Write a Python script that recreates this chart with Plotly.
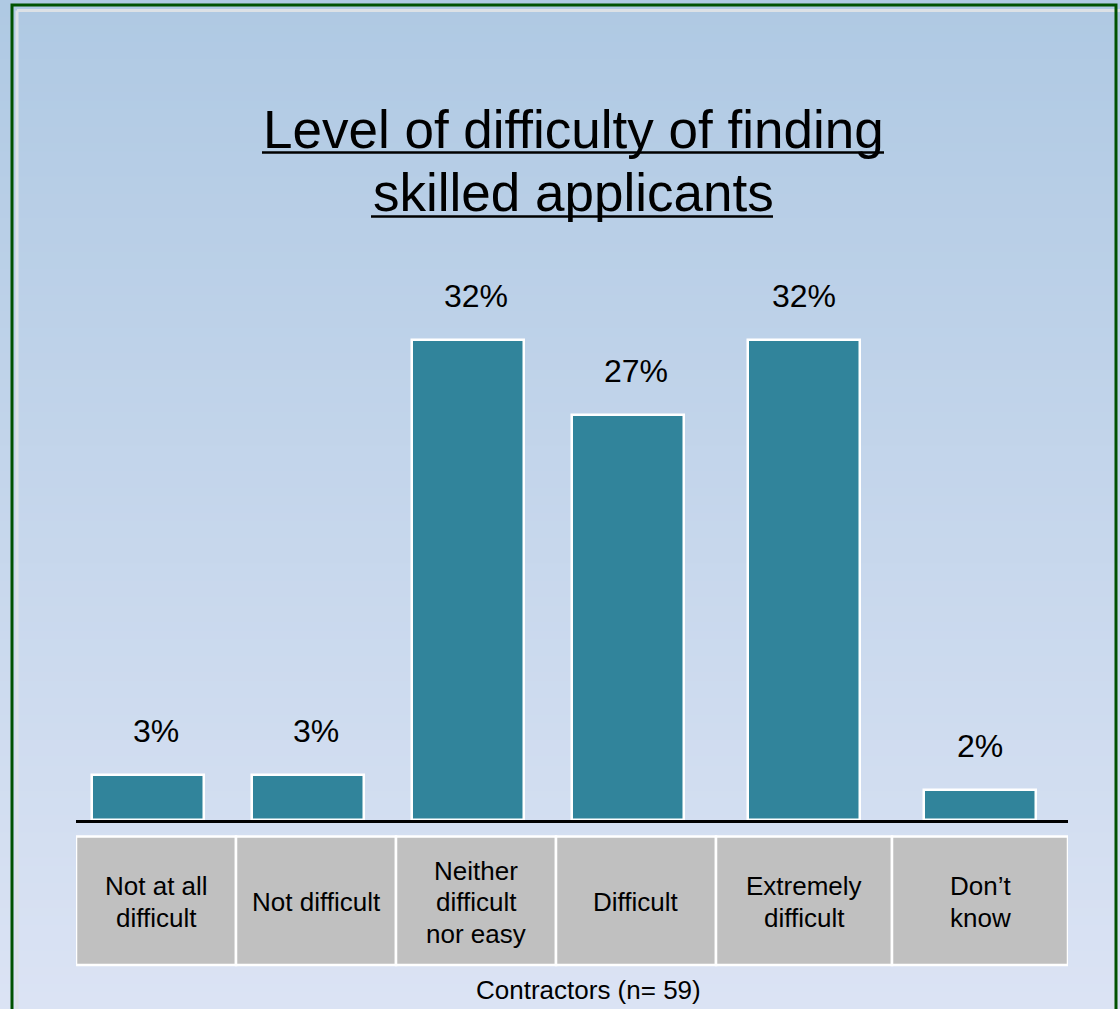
import numpy as np
import plotly.graph_objects as go

# ---- data ----
categories = [
    "Not at all<br>difficult",
    "Not difficult",
    "Neither<br>difficult<br>nor easy",
    "Difficult",
    "Extremely<br>difficult",
    "Don’t<br>know",
]
percent = [3, 3, 32, 27, 32, 2]
value_labels = [f"{v}%" for v in percent]
title_lines = ["Level of difficulty of finding", "skilled applicants"]
sample_note = "Contractors (n= 59)"

# ---- layout constants (pixels) ----
W, H = 1120, 1009
L, R, T, B = 76, 52, 260, 189
plot_w = W - L - R
plot_h = H - T - B
px_per_pct = 15.0

FONT = "Arial, Liberation Sans, sans-serif"
BAR_COLOR = "#31849B"
CELL_COLOR = "#C0C0C0"

# column widths of the category table (axis units)
col_widths = [1, 1, 1, 1, 1.1, 1.1]
edges = np.concatenate([[0.0], np.cumsum(col_widths)])
centers = (edges[:-1] + edges[1:]) / 2
bar_x = centers + np.array([-0.05, -0.05, -0.05, -0.05, 0.0, 0.0])


def pyp(pix):
    """pixel row -> paper y"""
    return (H - B - pix) / plot_h


def pxp(pix):
    """pixel column -> paper x"""
    return (pix - L) / plot_w


fig = go.Figure()
fig.add_trace(
    go.Bar(
        x=bar_x,
        y=percent,
        width=0.7,
        marker=dict(color=BAR_COLOR, line=dict(color="white", width=2.5)),
        hoverinfo="skip",
    )
)

shapes = []

# vertical gradient background built from thin strips
top_rgb = np.array([175, 201, 227])
bot_rgb = np.array([219, 227, 244])
n_strips = 120
for i in range(n_strips):
    t = i / (n_strips - 1)
    c = (top_rgb * (1 - t) + bot_rgb * t).round().astype(int)
    y0 = H * i / n_strips
    y1 = H * (i + 1) / n_strips + 1
    shapes.append(dict(
        type="rect", xref="paper", yref="paper", layer="below",
        x0=pxp(-2), x1=pxp(W + 2), y0=pyp(y1), y1=pyp(y0),
        fillcolor=f"rgb({c[0]},{c[1]},{c[2]})", line=dict(width=0),
    ))

# frame: light inner line and dark green border
shapes.append(dict(type="line", xref="paper", yref="paper", layer="below",
                   x0=pxp(17), x1=pxp(W + 5), y0=pyp(10.5), y1=pyp(10.5),
                   line=dict(color="#DCE1E6", width=3)))
shapes.append(dict(type="line", xref="paper", yref="paper", layer="below",
                   x0=pxp(17), x1=pxp(17), y0=pyp(10.5), y1=pyp(H + 5),
                   line=dict(color="#DCE1E6", width=3)))
shapes.append(dict(type="rect", xref="paper", yref="paper", layer="below",
                   x0=pxp(12), x1=pxp(1116), y0=pyp(H + 20), y1=pyp(5),
                   line=dict(color="#005200", width=3), fillcolor="rgba(0,0,0,0)"))

# category table cells
for i in range(len(categories)):
    shapes.append(dict(
        type="rect", xref="x", yref="paper",
        x0=edges[i], x1=edges[i + 1], y0=pyp(965), y1=pyp(836.5),
        fillcolor=CELL_COLOR, line=dict(color="white", width=2.5),
    ))

# title underlines
for (ux0, ux1, uy) in [(262, 884, 152.5), (371, 773, 216.5)]:
    shapes.append(dict(type="line", xref="paper", yref="paper",
                       x0=pxp(ux0), x1=pxp(ux1), y0=pyp(uy), y1=pyp(uy),
                       line=dict(color="black", width=2.5)))

annotations = []

# title, two lines
for line, mid_y in zip(title_lines, [130, 192]):
    annotations.append(dict(
        text=line, xref="paper", yref="paper",
        x=pxp(573), y=pyp(mid_y), xanchor="center", yanchor="middle",
        showarrow=False, font=dict(family=FONT, size=53, color="black"),
    ))

# value labels above bars, centred on their table column
for cx, v, lab in zip(centers, percent, value_labels):
    annotations.append(dict(
        text=lab, xref="x", yref="y", x=cx, y=v,
        xanchor="center", yanchor="bottom", yshift=24,
        showarrow=False, font=dict(family=FONT, size=32, color="black"),
    ))

# category names in table cells, one annotation per text line
line_step = 31.5
for cx, cat in zip(centers, categories):
    parts = cat.split("<br>")
    n = len(parts)
    for k, part in enumerate(parts):
        yc = 902 + (k - (n - 1) / 2) * line_step
        annotations.append(dict(
            text=part, xref="x", yref="paper", x=cx, y=pyp(yc),
            xanchor="center", yanchor="middle", showarrow=False,
            font=dict(family=FONT, size=26, color="black"),
        ))

annotations.append(dict(
    text=sample_note, xref="paper", yref="paper", x=pxp(588), y=pyp(990),
    xanchor="center", yanchor="middle", showarrow=False,
    font=dict(family=FONT, size=26, color="black"),
))

fig.update_layout(
    width=W, height=H,
    margin=dict(l=L, r=R, t=T, b=B, pad=0),
    paper_bgcolor="#AFC9E3",
    plot_bgcolor="rgba(0,0,0,0)",
    showlegend=False,
    bargap=0,
    xaxis=dict(range=[0, edges[-1]], showgrid=False, zeroline=False,
               showticklabels=False, ticks="", showline=True,
               linecolor="black", linewidth=2.5, fixedrange=True),
    yaxis=dict(range=[0, plot_h / px_per_pct], showgrid=False, zeroline=False,
               showticklabels=False, ticks="", showline=False, fixedrange=True),
    shapes=shapes,
    annotations=annotations,
)

fig.write_html("out.html", include_plotlyjs=True, config={"displayModeBar": False})
